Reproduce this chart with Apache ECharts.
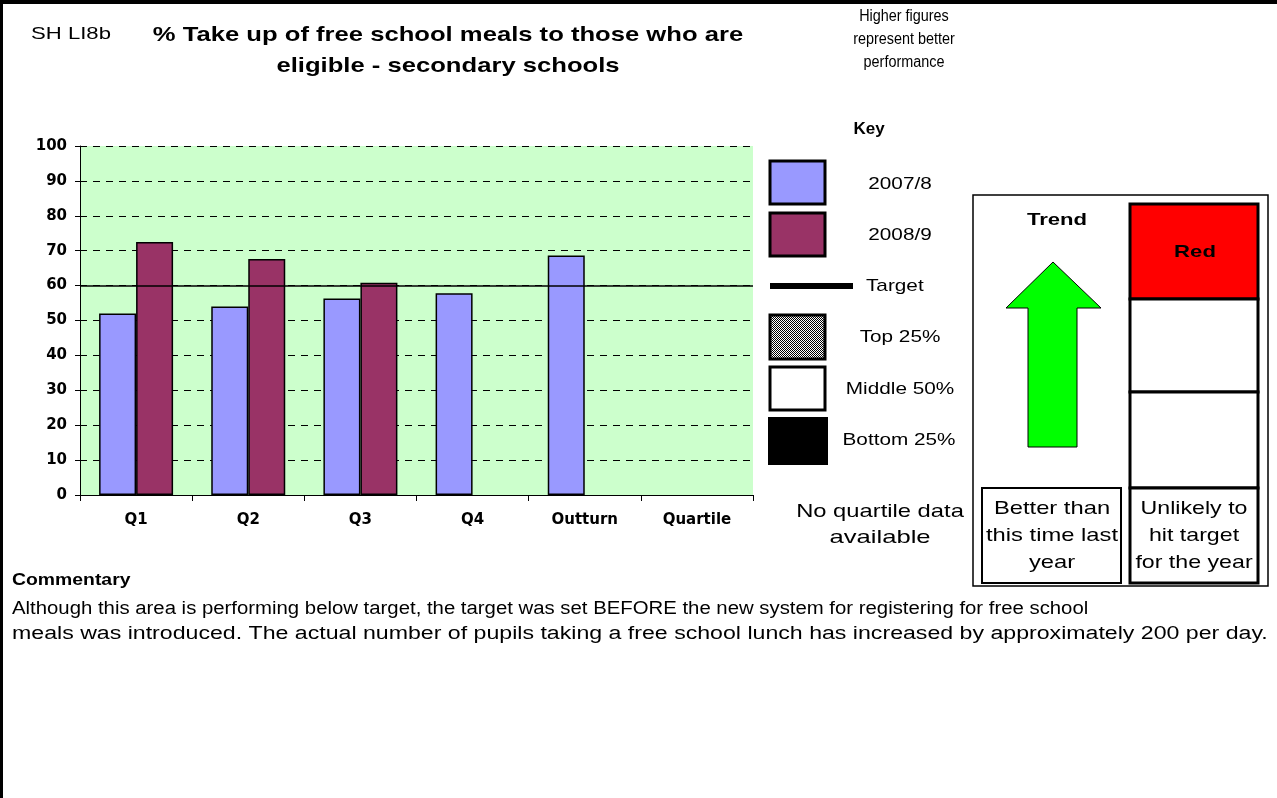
<!DOCTYPE html>
<html>
<head>
<meta charset="utf-8">
<script src="https://cdn.jsdelivr.net/npm/echarts@6/dist/echarts.min.js"></script>
<style>
  html, body { margin: 0; padding: 0; background: #fff; }
  #chart { width: 1277px; height: 798px; }
</style>
</head>
<body>
<div id="chart"></div>
<script>
// data
const quarters = ['Q1', 'Q2', 'Q3', 'Q4', 'Outturn', 'Quartile'];
const year0708 = [52, 54, 56.3, 57.8, 68.6, null];
const year0809 = [72.5, 67.6, 60.8, null, null, null];
const target = 60;
const yTicks = { min: 0, max: 100, step: 10 };

const FONT = '"Liberation Sans", Arial, sans-serif';
const AXIS_FONT = '"DejaVu Sans", sans-serif';

// little checker pattern for the "Top 25%" key swatch
function checker() {
  const c = document.createElement('canvas');
  c.width = 2; c.height = 2;
  const g = c.getContext('2d');
  g.fillStyle = '#fff'; g.fillRect(0, 0, 2, 2);
  g.fillStyle = '#000'; g.fillRect(0, 0, 1, 1); g.fillRect(1, 1, 1, 1);
  return c;
}

// the original was rendered with stretched text, so scaleX widens it a bit
function txt(x, y, text, size, opts) {
  opts = opts || {};
  return {
    type: 'text', x: x, y: y, scaleX: opts.sx || 1, silent: true,
    style: {
      text: text, fill: '#000', font: (opts.bold ? 'bold ' : '') + size + 'px ' + FONT,
      align: opts.align || 'center', verticalAlign: 'middle',
      lineHeight: opts.lineHeight
    }
  };
}
function box(x, y, w, h, fill, lw) {
  return { type: 'rect', shape: { x: x, y: y, width: w, height: h }, silent: true,
           style: { fill: fill, stroke: '#000', lineWidth: lw } };
}

const chart = echarts.init(document.getElementById('chart'));

const graphics = [
  // page frame (top and left only)
  { type: 'rect', shape: { x: 0, y: 0, width: 1277, height: 4 }, style: { fill: '#000' }, silent: true },
  { type: 'rect', shape: { x: 0, y: 0, width: 3, height: 798 }, style: { fill: '#000' }, silent: true },

  txt(71, 34, 'SH LI8b', 17, { sx: 1.3 }),
  txt(448, 51, '% Take up of free school meals to those who are\neligible - secondary schools', 21, { bold: true, lineHeight: 31, sx: 1.22 }),
  txt(904, 40, 'Higher figures\nrepresent better\nperformance', 16, { lineHeight: 23, sx: 0.9 }),

  // key
  txt(869, 129, 'Key', 17, { bold: true }),
  box(770, 161, 55, 43, '#9999FF', 3),
  txt(900, 184, '2007/8', 17, { sx: 1.22 }),
  box(770, 213, 55, 43, '#993366', 3),
  txt(900, 235, '2008/9', 17, { sx: 1.22 }),
  { type: 'rect', shape: { x: 770, y: 283, width: 83, height: 6 }, style: { fill: '#000' }, silent: true },
  txt(866, 286, 'Target', 17, { align: 'left', sx: 1.22 }),
  { type: 'rect', shape: { x: 770, y: 315, width: 55, height: 44 }, silent: true,
    style: { fill: { image: checker(), repeat: 'repeat' }, stroke: '#000', lineWidth: 3 } },
  txt(900, 337, 'Top 25%', 17, { sx: 1.22 }),
  box(770, 367, 55, 43, '#fff', 3),
  txt(900, 389, 'Middle 50%', 17, { sx: 1.22 }),
  { type: 'rect', shape: { x: 768, y: 417, width: 60, height: 48 }, style: { fill: '#000' }, silent: true },
  txt(899, 440, 'Bottom 25%', 17, { sx: 1.22 }),
  txt(880, 512, 'No quartile data', 19, { sx: 1.25 }),
  txt(880, 538, 'available', 19, { sx: 1.35 }),

  // trend / status panel
  box(973, 195, 295, 391, '#fff', 1.5),
  txt(1057, 220, 'Trend', 17, { bold: true, sx: 1.3 }),
  { type: 'polygon', silent: true,
    shape: { points: [[1053, 262], [1101, 308], [1077, 308], [1077, 447], [1028, 447], [1028, 308], [1006, 308]] },
    style: { fill: '#00FF00', stroke: '#000', lineWidth: 1 } },
  box(1130, 204, 128, 95, '#FF0000', 3),
  txt(1195, 252, 'Red', 17, { bold: true, sx: 1.3 }),
  box(1130, 299, 128, 93, '#fff', 3),
  box(1130, 392, 128, 96, '#fff', 3),
  box(982, 488, 139, 95, '#fff', 2),
  txt(1052, 536, 'Better than\nthis time last\nyear', 19, { lineHeight: 27, sx: 1.25 }),
  box(1130, 488, 128, 95, '#fff', 3),
  txt(1194, 536, 'Unlikely to\nhit target\nfor the year', 19, { lineHeight: 27, sx: 1.22 }),

  // commentary
  txt(12, 580, 'Commentary', 17, { bold: true, align: 'left', sx: 1.14 }),
  txt(12, 609, 'Although this area is performing below target, the target was set BEFORE the new system for registering for free school', 18, { align: 'left', sx: 1.13 }),
  txt(12, 634, 'meals was introduced. The actual number of pupils taking a free school lunch has increased by approximately 200 per day.', 18, { align: 'left', sx: 1.285 })
];

chart.setOption({
  animation: false,
  backgroundColor: '#fff',
  grid: { left: 80, top: 146, width: 673, height: 349, show: true, backgroundColor: '#CCFFCC', borderWidth: 0 },
  xAxis: {
    type: 'category', data: quarters,
    axisLine: { lineStyle: { color: '#000', width: 1 } },
    axisTick: { show: true, length: 6, lineStyle: { color: '#000' } },
    axisLabel: { color: '#000', fontFamily: AXIS_FONT, fontWeight: 'bold', fontSize: 15, margin: 18 }
  },
  yAxis: {
    type: 'value', min: yTicks.min, max: yTicks.max, interval: yTicks.step,
    axisLine: { show: true, lineStyle: { color: '#000', width: 1 } },
    axisTick: { show: true, length: 5, lineStyle: { color: '#000' } },
    axisLabel: { color: '#000', fontFamily: AXIS_FONT, fontWeight: 'bold', fontSize: 15, margin: 13 },
    splitLine: { show: true, lineStyle: { color: '#000', type: [7, 6], width: 1 } }
  },
  series: [
    {
      name: '2007/8', type: 'bar', data: year0708, barWidth: 37, barGap: '0%',
      itemStyle: { color: '#9999FF', borderColor: '#000', borderWidth: 1.5 },
      markLine: {
        silent: true, symbol: 'none', label: { show: false },
        lineStyle: { color: '#000', type: 'solid', width: 1.5 },
        data: [{ yAxis: target }]
      }
    },
    {
      name: '2008/9', type: 'bar', data: year0809, barWidth: 37,
      itemStyle: { color: '#993366', borderColor: '#000', borderWidth: 1.5 }
    }
  ],
  graphic: graphics
});
</script>
</body>
</html>
